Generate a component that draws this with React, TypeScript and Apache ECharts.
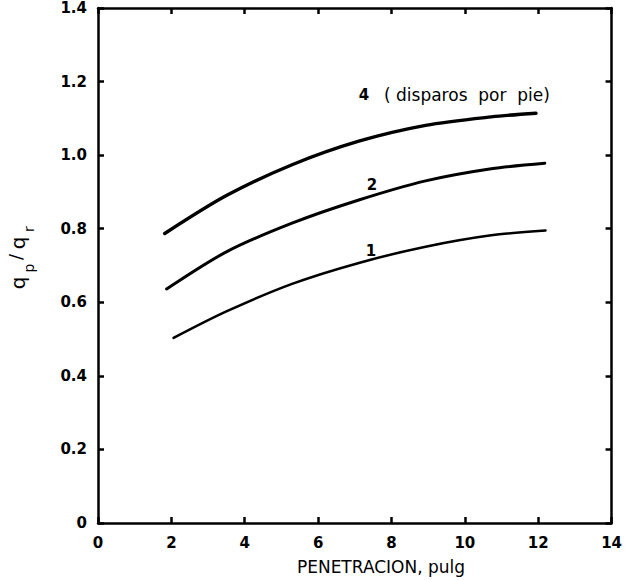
import React, { useEffect, useRef } from "react";
import * as echarts from "echarts";

// Penetration (in) vs productivity ratio qp/qr, one curve per shot density
const xTicks = [0, 2, 4, 6, 8, 10, 12, 14];
const yTicks = [0, 0.2, 0.4, 0.6, 0.8, 1.0, 1.2, 1.4];

const pen4 = [1.82, 3.5, 5.29, 7.11, 8.93, 10.72, 11.94];
const ratio4 = [0.787, 0.89, 0.974, 1.038, 1.081, 1.104, 1.114];

const pen2 = [1.87, 3.5, 5.29, 7.11, 8.93, 10.72, 12.18];
const ratio2 = [0.636, 0.737, 0.815, 0.878, 0.93, 0.963, 0.978];

const pen1 = [2.06, 3.5, 5.29, 7.11, 8.93, 10.72, 12.2];
const ratio1 = [0.503, 0.575, 0.65, 0.707, 0.751, 0.782, 0.795];

const curveNames = ["4", "2", "1"];

const pairs = (xs: number[], ys: number[]) => xs.map((x, i) => [x, ys[i]]);

const BOLD = "DejaVu Sans";

export default function App() {
  const ref = useRef<HTMLDivElement>(null);

  useEffect(() => {
    if (!ref.current) return;
    const chart = echarts.init(ref.current, undefined, { renderer: "svg" });

    const axisLine = { show: true, onZero: false, lineStyle: { color: "#000", width: 2.5 } };
    const tick = { show: true, inside: true, length: 6, lineStyle: { color: "#000", width: 2.5 } };
    const tickLabel = {
      color: "#000",
      fontFamily: BOLD,
      fontWeight: "bold" as const,
      fontSize: 15,
    };

    const line = (name: string, data: number[][], width: number) => ({
      type: "line",
      name,
      data,
      smooth: 0.3,
      showSymbol: false,
      lineStyle: { color: "#000", width, cap: "round", join: "round" },
      silent: true,
    });

    const subText = (txt: string, x: number, y: number, size: number) => ({
      type: "text",
      x,
      y,
      rotation: Math.PI / 2,
      style: {
        text: txt,
        fill: "#000",
        fontSize: size,
        fontFamily: "DejaVu Sans",
        align: "center",
        verticalAlign: "middle",
      },
    });

    const plainText = (txt: string, x: number, y: number, size: number, bold: boolean, align = "center") => ({
      type: "text",
      x,
      y,
      style: {
        text: txt,
        fill: "#000",
        fontSize: size,
        fontFamily: "DejaVu Sans",
        fontWeight: bold ? "bold" : "normal",
        align,
        verticalAlign: "middle",
      },
    });

    chart.setOption({
      animation: false,
      backgroundColor: "#fff",
      grid: { left: 98, top: 8, width: 516, height: 515, containLabel: false },
      xAxis: [
        {
          type: "value",
          min: xTicks[0],
          max: xTicks[xTicks.length - 1],
          interval: 2,
          axisLine,
          axisTick: tick,
          splitLine: { show: false },
          axisLabel: { ...tickLabel, margin: 12 },
        },
        {
          type: "value",
          position: "top",
          min: xTicks[0],
          max: xTicks[xTicks.length - 1],
          interval: 2,
          axisLine,
          axisTick: tick,
          splitLine: { show: false },
          axisLabel: { show: false },
        },
      ],
      yAxis: [
        {
          type: "value",
          min: yTicks[0],
          max: yTicks[yTicks.length - 1],
          interval: 0.2,
          axisLine,
          axisTick: tick,
          splitLine: { show: false },
          axisLabel: {
            ...tickLabel,
            margin: 11,
            formatter: (v: number) => (v === 0 ? "0" : v.toFixed(1)),
          },
        },
        {
          type: "value",
          position: "right",
          min: yTicks[0],
          max: yTicks[yTicks.length - 1],
          interval: 0.2,
          axisLine,
          axisTick: tick,
          splitLine: { show: false },
          axisLabel: { show: false },
        },
      ],
      series: [
        line(curveNames[0], pairs(pen4, ratio4), 3.4),
        line(curveNames[1], pairs(pen2, ratio2), 3),
        line(curveNames[2], pairs(pen1, ratio1), 2.5),
      ],
      graphic: [
        plainText(curveNames[0], 364, 95, 15, true),
        plainText("( disparos  por  pie)", 384, 95, 17, false, "left"),
        plainText(curveNames[1], 372, 185, 15, true),
        plainText(curveNames[2], 371, 251, 15, true),
        plainText("PENETRACION, pulg", 381, 567, 17, false),
        subText("q", 18, 283, 20),
        subText("p", 29, 268, 14),
        subText("/", 15, 257, 18),
        subText("q", 18, 243, 20),
        subText("r", 29, 229, 14),
      ],
    });

    return () => chart.dispose();
  }, []);

  return (
    <div
      ref={ref}
      style={{ position: "fixed", left: 0, top: 0, width: 625, height: 580, background: "#fff" }}
    />
  );
}
